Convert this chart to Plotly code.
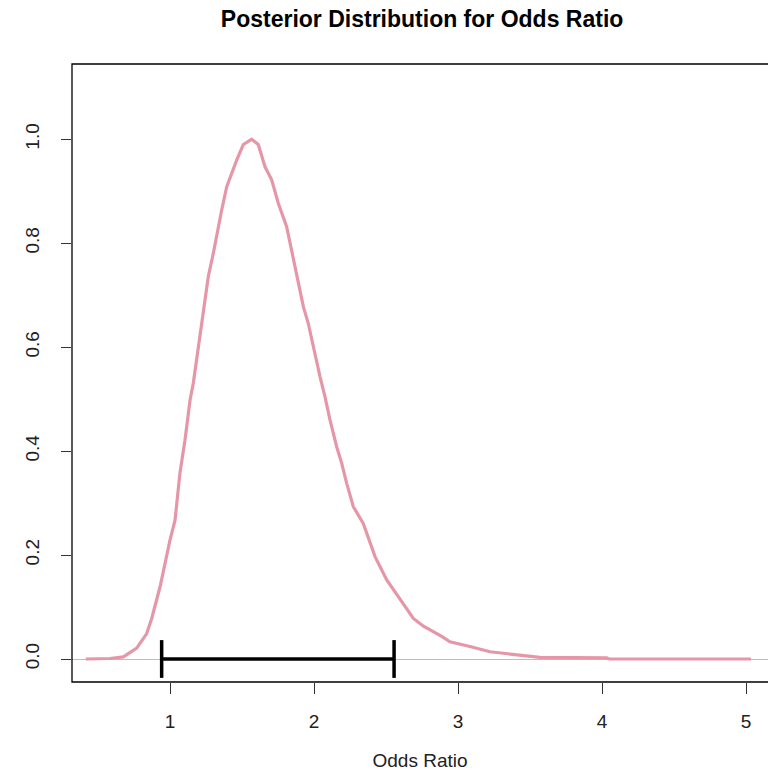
import plotly.graph_objects as go

# Posterior density (scaled so max = 1)
odds_ratio = [0.415, 0.583, 0.676, 0.769, 0.838, 0.873, 0.931, 1.000, 1.035, 1.069,
              1.104, 1.139, 1.162, 1.197, 1.231, 1.266, 1.301, 1.335, 1.359, 1.394,
              1.428, 1.463, 1.509, 1.567, 1.613, 1.660, 1.706, 1.752, 1.810, 1.845,
              1.880, 1.926, 1.960, 1.995, 2.042, 2.076, 2.111, 2.158, 2.192, 2.227,
              2.273, 2.342, 2.424, 2.505, 2.597, 2.690, 2.760, 2.828, 2.890, 2.944,
              3.010, 3.083, 3.222, 3.408, 3.569, 4.033, 4.050, 5.035]
density = [0.000, 0.001, 0.004, 0.021, 0.049, 0.078, 0.139, 0.229, 0.267, 0.358,
           0.421, 0.498, 0.531, 0.601, 0.672, 0.736, 0.781, 0.832, 0.864, 0.909,
           0.935, 0.960, 0.990, 1.000, 0.990, 0.947, 0.922, 0.877, 0.832, 0.787,
           0.736, 0.678, 0.646, 0.601, 0.543, 0.505, 0.460, 0.408, 0.377, 0.338,
           0.293, 0.261, 0.197, 0.152, 0.114, 0.078, 0.063, 0.053, 0.043, 0.033,
           0.028, 0.024, 0.014, 0.008, 0.003, 0.002, 0.000, 0.000]

# Credible interval
ci_bounds = [0.942, 2.556]
ci_level = [0, 0]

x_ticks = [1, 2, 3, 4, 5]
y_ticks = [0.0, 0.2, 0.4, 0.6, 0.8, 1.0]
y_tick_labels = ["0.0", "0.2", "0.4", "0.6", "0.8", "1.0"]

FONT = "Liberation Sans, Arial, sans-serif"

fig = go.Figure()
fig.add_trace(go.Scatter(
    x=odds_ratio, y=density, mode="lines",
    line=dict(color="#e597a7", width=3.2), hoverinfo="skip", showlegend=False))
fig.add_trace(go.Scatter(
    x=ci_bounds, y=ci_level, mode="lines+markers",
    line=dict(color="black", width=3.5),
    marker=dict(symbol="line-ns", size=27, line=dict(color="black", width=3.5)),
    hoverinfo="skip", showlegend=False))

fig.update_layout(
    width=768, height=775,
    margin=dict(l=72, r=0, t=64, b=93),
    paper_bgcolor="white", plot_bgcolor="white",
    font=dict(family=FONT, size=19, color="#222"),
    title=dict(text="<b>Posterior Distribution for Odds Ratio</b>",
               font=dict(family=FONT, size=23, color="black"),
               x=0.503, xref="paper", xanchor="center",
               y=1 - 19 / 775, yref="container", yanchor="middle"),
    xaxis=dict(range=[0.3194, 5.1528], tickvals=x_ticks, ticks="outside",
               ticklen=11, tickcolor="#333", tickwidth=1, showgrid=False,
               zeroline=False, showline=False, ticklabelstandoff=11,
               tickfont=dict(size=19, color="#222"),
               title=dict(text="Odds Ratio", standoff=22,
                          font=dict(size=19, color="#222"))),
    yaxis=dict(range=[-0.04426, 1.1449], tickvals=y_ticks, ticktext=y_tick_labels,
               ticks="outside", ticklen=10, tickcolor="#333", tickwidth=1,
               showgrid=False, zeroline=True, zerolinecolor="#bebebe",
               zerolinewidth=1, showline=False, tickangle=-90,
               ticklabelstandoff=14, tickfont=dict(size=19, color="#222")),
)

# plot frame (right side extends past the window edge as in the original)
fig.add_shape(type="rect", xref="paper", yref="paper",
              x0=0, x1=700 / 696, y0=0, y1=1,
              line=dict(color="black", width=1.3), layer="above")

fig.write_html("out.html")
